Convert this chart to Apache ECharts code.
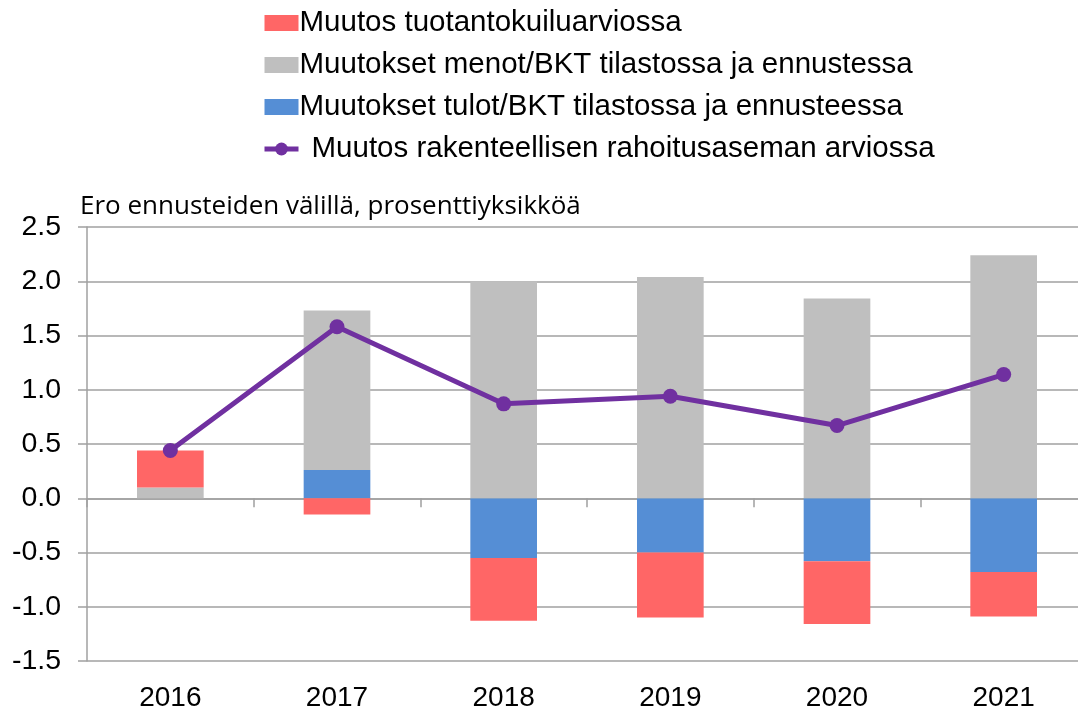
<!DOCTYPE html>
<html>
<head>
<meta charset="utf-8">
<script src="https://cdn.jsdelivr.net/npm/echarts@6/dist/echarts.min.js"></script>
<style>
  html, body { margin: 0; padding: 0; background: #fff; }
  #chart { width: 1078px; height: 713px; }
</style>
</head>
<body>
<div id="chart"></div>
<script>
// data
var years = ['2016', '2017', '2018', '2019', '2020', '2021']
var tuloData = [0, 0.26, -0.55, -0.5, -0.58, -0.68]
var menoData = [0.1, 1.47, 2.0, 2.04, 1.84, 2.24]
var kuiluData = [0.34, -0.15, -0.58, -0.6, -0.58, -0.41]
var rahoitusData = [0.44, 1.58, 0.87, 0.94, 0.67, 1.14]
var yTicks = { min: -1.5, max: 2.5, interval: 0.5 }

var nameKuilu = 'Muutos tuotantokuiluarviossa'
var nameMeno = 'Muutokset menot/BKT tilastossa ja ennustessa'
var nameTulo = 'Muutokset tulot/BKT tilastossa ja ennusteessa'
var nameRah = 'Muutos rakenteellisen rahoitusaseman arviossa'

var chart = echarts.init(document.getElementById('chart'), null, { renderer: 'canvas' })

var font = 'Liberation Sans, Arial, sans-serif'
var gridColor = '#a0a0a0'
var purple = '#7030a0'

chart.setOption({
  animation: false,
  textStyle: { fontFamily: font },
  title: {
    text: 'Ero ennusteiden välillä, prosenttiyksikköä',
    left: 80,
    top: 194,
    padding: 0,
    textStyle: {
      fontFamily: 'Open Sans, Noto Sans, sans-serif',
      fontWeight: 'normal',
      fontSize: 26,
      color: '#000'
    }
  },
  legend: {
    orient: 'vertical',
    left: 257,
    top: 3,
    itemWidth: 34,
    itemHeight: 16,
    itemGap: 12,
    textStyle: { fontFamily: font, fontSize: 29.5, color: '#000', padding: [0, 0, 0, -4] },
    data: [
      { name: nameKuilu, icon: 'rect' },
      { name: nameMeno, icon: 'rect' },
      { name: nameTulo, icon: 'rect' },
      { name: nameRah, lineStyle: { width: 5, color: purple }, textStyle: { padding: [0, 0, 0, 8] } }
    ]
  },
  grid: {
    left: 87,
    width: 1000, // runs past the right edge like the original
    top: 227,
    bottom: 52,
    outerBoundsMode: 'none'
  },
  xAxis: [
    {
      type: 'category',
      data: years,
      position: 'bottom',
      axisLine: { show: false, onZero: false },
      axisTick: { show: false },
      axisLabel: { fontSize: 28, color: '#000', margin: 23 }
    },
    {
      // zero line with ticks between categories
      type: 'category',
      data: years,
      position: 'bottom',
      axisLine: { show: true, onZero: true, lineStyle: { color: gridColor, width: 1.5 } },
      axisTick: { show: true, length: 9, inside: false, lineStyle: { color: gridColor, width: 1.5 } },
      axisLabel: { show: false }
    }
  ],
  yAxis: {
    type: 'value',
    min: yTicks.min,
    max: yTicks.max,
    interval: yTicks.interval,
    axisLine: { show: true, lineStyle: { color: gridColor, width: 1.5 } },
    axisTick: { show: true, length: 9, lineStyle: { color: gridColor, width: 1.5 } },
    splitLine: { show: true, lineStyle: { color: gridColor, width: 1.5 } },
    axisLabel: {
      fontSize: 28.5,
      color: '#000',
      margin: 26,
      formatter: function(v) { return v.toFixed(1) }
    }
  },
  series: [
    {
      name: nameTulo,
      type: 'bar',
      stack: 'total',
      barWidth: '40%',
      itemStyle: { color: '#558ed5' },
      data: tuloData
    },
    {
      name: nameMeno,
      type: 'bar',
      stack: 'total',
      barWidth: '40%',
      itemStyle: { color: '#bfbfbf' },
      data: menoData
    },
    {
      name: nameKuilu,
      type: 'bar',
      stack: 'total',
      barWidth: '40%',
      itemStyle: { color: '#ff6666' },
      data: kuiluData
    },
    {
      name: nameRah,
      type: 'line',
      symbol: 'circle',
      symbolSize: 15,
      lineStyle: { color: purple, width: 5 },
      itemStyle: { color: purple },
      data: rahoitusData
    }
  ]
})
</script>
</body>
</html>
